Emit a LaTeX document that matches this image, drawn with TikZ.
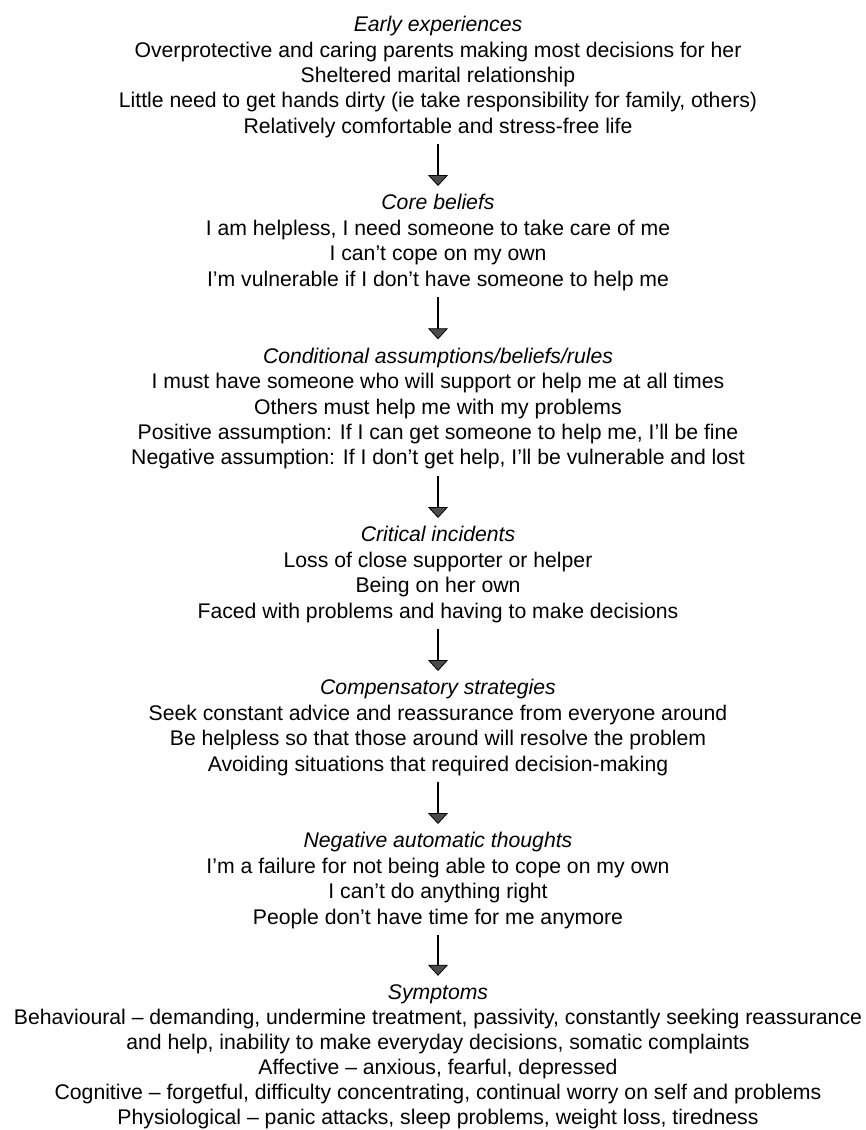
\documentclass[tikz,border=0pt]{standalone}
\usepackage{fontspec}
\setmainfont{Liberation Sans}
\usetikzlibrary{arrows.meta}
\begin{document}
\begin{tikzpicture}[x=1pt,y=-1pt,
  block/.style={align=center, inner sep=0pt, font=\fontsize{21.2}{25.4}\selectfont},
  lastblock/.style={block, font=\fontsize{21.2}{25.0}\selectfont},
  flow/.style={line width=1.7pt, -{Triangle[width=20pt,length=11pt,fill=black!70,line width=0.8pt]}, shorten <=3pt, shorten >=6pt}]
\useasboundingbox[fill=white] (0,0) rectangle (866,1130);
\node[block] (b1) at (438,77.5) {\strut\textit{Early experiences}\\
\strut Overprotective and caring parents making most decisions for her\\
\strut Sheltered marital relationship\\
\strut Little need to get hands dirty (ie take responsibility for family, others)\\
\strut Relatively comfortable and stress-free life};
\node[block] (b2) at (438,243) {\strut\textit{Core beliefs}\\
\strut I am helpless, I need someone to take care of me\\
\strut I can't cope on my own\\
\strut I'm vulnerable if I don't have someone to help me};
\node[block] (b3) at (438,409) {\strut\textit{Conditional assumptions/beliefs/rules}\\
\strut I must have someone who will support or help me at all times\\
\strut Others must help me with my problems\\
\strut Positive assumption: If I can get someone to help me, I'll be fine\\
\strut Negative assumption: If I don't get help, I'll be vulnerable and lost};
\node[block] (b4) at (438,575) {\strut\textit{Critical incidents}\\
\strut Loss of close supporter or helper\\
\strut Being on her own\\
\strut Faced with problems and having to make decisions};
\node[block] (b5) at (438,728) {\strut\textit{Compensatory strategies}\\
\strut Seek constant advice and reassurance from everyone around\\
\strut Be helpless so that those around will resolve the problem\\
\strut Avoiding situations that required decision-making};
\node[block] (b6) at (438,881) {\strut\textit{Negative automatic thoughts}\\
\strut I'm a failure for not being able to cope on my own\\
\strut I can't do anything right\\
\strut People don't have time for me anymore};
\node[lastblock] (b7) at (438,1057) {\strut\textit{Symptoms}\\
\strut Behavioural -- demanding, undermine treatment, passivity, constantly seeking reassurance\\
\strut and help, inability to make everyday decisions, somatic complaints\\
\strut Affective -- anxious, fearful, depressed\\
\strut Cognitive -- forgetful, difficulty concentrating, continual worry on self and problems\\
\strut Physiological -- panic attacks, sleep problems, weight loss, tiredness};
\draw[flow] (b1) -- (b2);
\draw[flow] (b2) -- (b3);
\draw[flow] (b3) -- (b4);
\draw[flow] (b4) -- (b5);
\draw[flow] (b5) -- (b6);
\draw[flow] (b6) -- (b7);
\end{tikzpicture}
\end{document}
